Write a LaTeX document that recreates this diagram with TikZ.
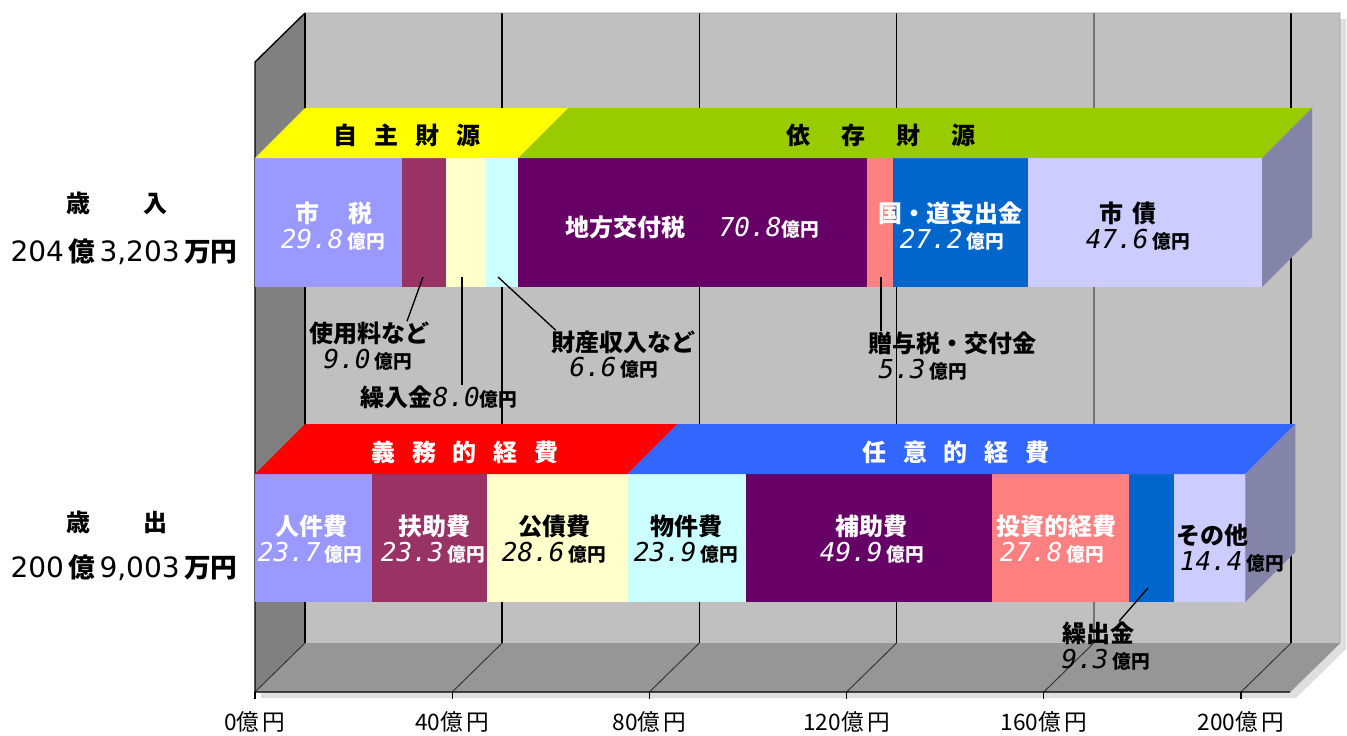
\documentclass[tikz,border=0pt]{standalone}
\usepackage{fontspec}
\setmainfont{Noto Sans CJK JP}
\newfontfamily\numfont{DejaVu Sans Mono}
\newfontfamily\sumfont{DejaVu Sans}
\usepackage{tikz}
\usetikzlibrary{calc}
\definecolor{wallback}{HTML}{C0C0C0}
\definecolor{wallside}{HTML}{808080}
\definecolor{wallfloor}{HTML}{969696}
\definecolor{segA}{HTML}{9999FF}
\definecolor{segB}{HTML}{993366}
\definecolor{segC}{HTML}{FFFFCC}
\definecolor{segD}{HTML}{CCFFFF}
\definecolor{segE}{HTML}{660066}
\definecolor{segF}{HTML}{FF8080}
\definecolor{segG}{HTML}{0066CC}
\definecolor{segH}{HTML}{CCCCFF}
\definecolor{barend}{HTML}{8484A8}
\definecolor{jishu}{HTML}{FFFF00}
\definecolor{izon}{HTML}{99CC00}
\definecolor{gimu}{HTML}{FF0000}
\definecolor{nini}{HTML}{3366FF}
\newcommand{\okuen}{{\bfseries\fontsize{14}{14}\selectfont 億円}}
\newcommand{\sumdig}[1]{{\sumfont\mdseries\fontsize{21}{21}\selectfont #1}}

\begin{document}
\begin{tikzpicture}[x=0.75pt,y=-0.75pt,
	lbl/.style={inner sep=0pt,font=\bfseries\fontsize{18}{18}\selectfont},
	val/.style={inner sep=0pt,font=\fontsize{19.5}{19.5}\selectfont},
	cat/.style={inner sep=0pt,font=\bfseries\fontsize{18}{18}\selectfont},
	axis/.style={inner sep=0pt,font=\fontsize{17}{17}\selectfont},
	sum/.style={inner sep=0pt,font=\bfseries\fontsize{20}{20}\selectfont},
	leader/.style={line width=1pt}]
	\useasboundingbox (0,0) rectangle (1347,736);
	\fill[white] (0,0) rectangle (1347,736);
	% frame: shadow, walls, floor
	\fill[gray!25] (261,68) -- (311,19) -- (1346,19) -- (1346,649) -- (1296,698) -- (261,698) -- cycle;
	\fill[wallback] (305,13) rectangle (1340,643);
	\fill[wallside] (255,62) -- (305,13) -- (305,643) -- (255,692) -- cycle;
	\fill[wallfloor] (255,692) -- (305,643) -- (1340,643) -- (1290,692) -- cycle;
	\foreach \amt/\col in {0/black,40/black,80/black,120/black,160/black!55,200/black}{
		\draw[line width=1.3pt,\col] ({305+4.93*\amt},13) -- ({305+4.93*\amt},643);
		\draw[line width=0.7pt,black!80] ({305+4.93*\amt},643) -- ({255+4.93*\amt},692);
		\draw[line width=1pt] ({255+4.93*\amt},692) -- ({255+4.93*\amt},699);
	}
	\draw[black!40] (305,13) -- (1340,13) -- (1340,643) -- (1290,692);
	\draw[line width=1pt] (305,13) -- (255,62) -- (255,692) -- (1290,692);
	% revenue bar
	\foreach \a/\b/\col in {0/29.8/segA,29.8/38.8/segB,38.8/46.8/segC,46.8/53.4/segD,53.4/124.2/segE,124.2/129.5/segF,129.5/156.7/segG,156.7/204.3/segH}
		\fill[\col] ({255+4.93*\a},158) rectangle ({255+4.93*\b},287);
	\fill[jishu] (255,158) -- (305,108) -- ({305+4.93*53.4},108) -- ({255+4.93*53.4},158) -- cycle;
	\fill[izon] ({255+4.93*53.4},158) -- ({305+4.93*53.4},108) -- ({305+4.93*204.3},108) -- ({255+4.93*204.3},158) -- cycle;
	\fill[barend] ({255+4.93*204.3},158) -- ++(50,-50) -- ++(0,129) -- ++(-50,50) -- cycle;
	% expenditure bar
	\foreach \a/\b/\col in {0/23.7/segA,23.7/47.0/segB,47.0/75.6/segC,75.6/99.5/segD,99.5/149.4/segE,149.4/177.2/segF,177.2/186.5/segG,186.5/200.9/segH}
		\fill[\col] ({255+4.93*\a},474) rectangle ({255+4.93*\b},602);
	\fill[gimu] (255,474) -- (305,424) -- ({305+4.93*75.6},424) -- ({255+4.93*75.6},474) -- cycle;
	\fill[nini] ({255+4.93*75.6},474) -- ({305+4.93*75.6},424) -- ({305+4.93*200.9},424) -- ({255+4.93*200.9},474) -- cycle;
	\fill[barend] ({255+4.93*200.9},474) -- ++(50,-50) -- ++(0,128) -- ++(-50,50) -- cycle;
	% group names on the top faces
	\node[cat] (jishu-t) at (407,135) {自\hspace{.7em}主\hspace{.7em}財\hspace{.7em}源};
	\node[cat] (izon-t) at (881,135) {依\hspace{1.3em}存\hspace{1.3em}財\hspace{1.3em}源};
	\node[cat,text=white] (gimu-t) at (465,452) {義\hspace{.7em}務\hspace{.7em}的\hspace{.7em}経\hspace{.7em}費};
	\node[cat,text=white] (nini-t) at (956,452) {任\hspace{.7em}意\hspace{.7em}的\hspace{.7em}経\hspace{.7em}費};
	% item names and amounts
	\foreach \nm/\px/\py/\txt/\qx/\qy/\amt/\col in {
		zei/334/213/市\hspace{1.2em}税/333/240/29.8/white,
		kuni/950/213/国・道支出金/952/240/27.2/white,
		sai/1128/213/市\hspace{0.4em}債/1138/240/47.6/black,
		shiyo/369/333/使用料など/368/360/9.0/black,
		zaisan/623/342/財産収入など/614/368/6.6/black,
		zoyo/952/343/贈与税・交付金/923/370/5.3/black,
		jinken/311/526/人件費/310/553/23.7/white,
		fujo/434/526/扶助費/433/553/23.3/white,
		kosai/554/526/公債費/554/553/28.6/black,
		bukken/686/526/物件費/686/553/23.9/black,
		hojo/871/526/補助費/872/553/49.9/white,
		toshi/1056/526/投資的経費/1052/553/27.8/white,
		sonota/1212/535/その他/1232/562/14.4/black,
		kuridashi/1098/633/繰出金/1106/660/9.3/black}{
		\node[lbl,text=\col] (\nm) at (\px,\py) {\txt};
		\node[val,text=\col] (\nm-v) at (\qx,\qy) {{\numfont\itshape\amt}\,\okuen};
	}
	\node[lbl,text=white] (chiho) at (692,227) {地方交付税\hspace{1.4em}{\numfont\mdseries\itshape\fontsize{19.5}{19.5}\selectfont 70.8}\okuen};
	\node[lbl] (kurikin) at (439,397) {繰入金{\numfont\mdseries\itshape\fontsize{19.5}{19.5}\selectfont 8.0}\okuen};
	% leader lines
	\coordinate (shiyo-tip) at (423,277);
	\coordinate (kurikin-tip) at (462,277);
	\coordinate (zaisan-tip) at (498,277);
	\coordinate (zoyo-tip) at (881,277);
	\coordinate (kuridashi-tip) at (1148,588);
	\draw[leader] (shiyo-tip) -- ($(shiyo.north)+(38,0)$);
	\draw[leader] (kurikin-tip) -- (kurikin-tip |- kurikin.north);
	\draw[leader] (zaisan-tip) -- ($(zaisan.north west)+(5,0)$);
	\draw[leader] (zoyo-tip) -- (zoyo-tip |- zoyo.north);
	\draw[leader] (kuridashi-tip) -- ($(kuridashi.north)+(21,0)$);
	% totals
	\node[lbl] (sainyu) at (117,203) {歳\hspace{2.2em}入};
	\node[sum] (sainyu-v) at (124,252) {\sumdig{204}\,億\,\sumdig{3,203}\,万円};
	\node[lbl] (saishutsu) at (117,522) {歳\hspace{2.2em}出};
	\node[sum] (saishutsu-v) at (124,568) {\sumdig{200}\,億\,\sumdig{9,003}\,万円};
	% axis
	\foreach \amt in {0,40,...,200}
		\node[axis] (tick\amt) at ({255+4.93*\amt},722) {\amt 億\hspace{.15em}円};
\end{tikzpicture}
\end{document}
